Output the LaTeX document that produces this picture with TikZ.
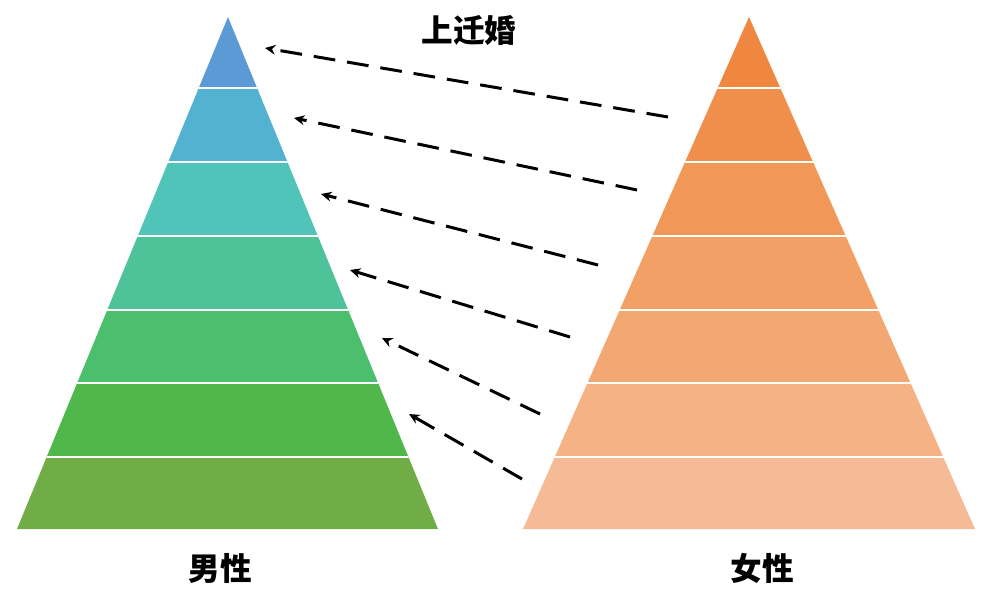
\documentclass[tikz,border=0pt]{standalone}
\usepackage{fontspec}
\newfontfamily\cjk{Noto Sans CJK SC}
\usetikzlibrary{arrows.meta}
\definecolor{L1}{HTML}{5B9AD5}
\definecolor{L2}{HTML}{52B2CF}
\definecolor{L3}{HTML}{50C4B9}
\definecolor{L4}{HTML}{4EC39A}
\definecolor{L5}{HTML}{4CBF6E}
\definecolor{L6}{HTML}{50B74B}
\definecolor{L7}{HTML}{70AD47}
\definecolor{R1}{HTML}{EF8740}
\definecolor{R2}{HTML}{F08F4B}
\definecolor{R3}{HTML}{F19757}
\definecolor{R4}{HTML}{F2A066}
\definecolor{R5}{HTML}{F3A873}
\definecolor{R6}{HTML}{F4B285}
\definecolor{R7}{HTML}{F4BB96}
\tikzset{
  mig/.style={-{Stealth[length=3pt,width=2.8pt]}, line width=0.85pt, dash pattern=on 6.2pt off 3.4pt},
  lab/.style={font=\cjk\bfseries\fontsize{9pt}{10pt}\selectfont, inner sep=0},
  sep/.style={white, line width=0.4pt}
}
\begin{document}
\begin{tikzpicture}[x=0.01cm,y=-0.01cm]
\useasboundingbox (0,0) rectangle (1000,594);
% left pyramid
\begin{scope}
\clip (228,17) -- (17,529) -- (438,529) -- cycle;
\fill[L1] (0,0) rectangle (460,88);
\fill[L2] (0,88) rectangle (460,162);
\fill[L3] (0,162) rectangle (460,236);
\fill[L4] (0,236) rectangle (460,310);
\fill[L5] (0,310) rectangle (460,383);
\fill[L6] (0,383) rectangle (460,457);
\fill[L7] (0,457) rectangle (460,530);
\foreach \y in {88,162,236,310,383,457} \draw[sep] (0,\y) -- (460,\y);
\end{scope}
% right pyramid
\begin{scope}
\clip (749,17) -- (523,529) -- (975,529) -- cycle;
\fill[R1] (500,0) rectangle (1000,88);
\fill[R2] (500,88) rectangle (1000,162);
\fill[R3] (500,162) rectangle (1000,236);
\fill[R4] (500,236) rectangle (1000,310);
\fill[R5] (500,310) rectangle (1000,383);
\fill[R6] (500,383) rectangle (1000,457);
\fill[R7] (500,457) rectangle (1000,530);
\foreach \y in {88,162,236,310,383,457} \draw[sep] (500,\y) -- (1000,\y);
\end{scope}
% labels
\node[lab] (title) at (469,30) {上迁婚};
\node[lab] (male) at (220,568) {男性};
\node[lab] (female) at (762,568) {女性};
% arrows
\coordinate (s1) at (668,117); \coordinate (e1) at (265,48);
\coordinate (s2) at (637,190); \coordinate (e2) at (294,118);
\coordinate (s3) at (598,265); \coordinate (e3) at (321,194);
\coordinate (s4) at (570,337); \coordinate (e4) at (350,270);
\coordinate (s5) at (540,414); \coordinate (e5) at (382,338);
\coordinate (s6) at (522,479); \coordinate (e6) at (409,414);
\foreach \i in {1,...,6} \draw[mig] (s\i) -- (e\i);
\end{tikzpicture}
\end{document}
